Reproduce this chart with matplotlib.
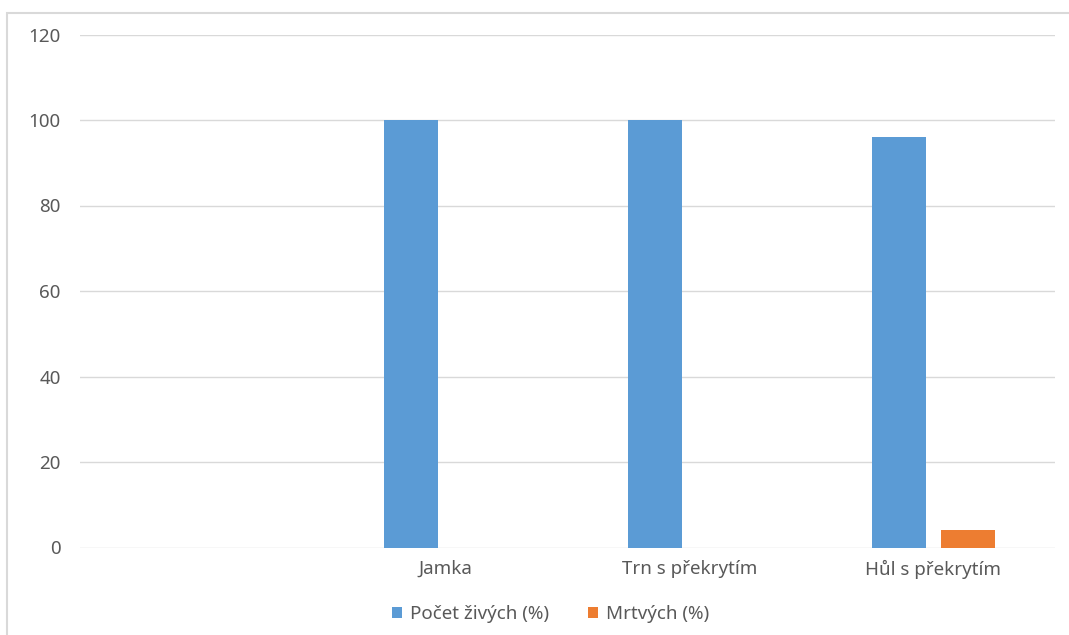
import numpy as np
import matplotlib
matplotlib.use("Agg")
import matplotlib.pyplot as plt
from matplotlib.patches import Rectangle

plt.rcParams['font.family'] = ['Noto Sans', 'DejaVu Sans']

categories = ["", "Jamka", "Trn s překrytím", "Hůl s překrytím"]
alive_pct = [np.nan, 100, 100, 96]
dead_pct = [np.nan, 0, 0, 4]
series_names = ["Počet živých (%)", "Mrtvých (%)"]
y_ticks = [0, 20, 40, 60, 80, 100, 120]

blue = "#5B9BD5"
orange = "#ED7D31"
text_col = "#595959"
grid_col = "#D9D9D9"
fs = 13.5

W, H = 1069, 635
fig = plt.figure(figsize=(W / 100, H / 100), dpi=100)
ax = fig.add_axes([80 / W, 1 - 547.5 / H, (1055 - 80) / W, (547.5 - 34.5) / H])

x = np.arange(len(categories))
width = 0.222
offset = 0.1415
ax.bar(x - offset, alive_pct, width, color=blue, label=series_names[0], zorder=3)
ax.bar(x + offset, dead_pct, width, color=orange, label=series_names[1], zorder=3)

ax.set_xlim(-0.5, len(categories) - 0.5)
ax.set_ylim(0, 120)
ax.set_yticks(y_ticks)
ax.set_xticks(x)
ax.set_xticklabels(categories)
ax.grid(axis='y', color=grid_col, linewidth=1.0, zorder=0)
ax.set_axisbelow(True)
for s in ax.spines.values():
    s.set_visible(False)
ax.tick_params(axis='both', length=0, labelsize=fs, labelcolor=text_col)
ax.tick_params(axis='y', pad=14)
ax.tick_params(axis='x', pad=9)

leg = fig.legend(loc='center', bbox_to_anchor=(550.5 / W, 1 - 614 / H), ncol=2,
                 frameon=False, fontsize=fs, handlelength=0.53, handleheight=0.53,
                 handletextpad=0.4, columnspacing=2.1)
for t in leg.get_texts():
    t.set_color(text_col)

# outer chart frame
fig.patches.append(Rectangle((7 / W, -0.05), 1.1, 1 - 13 / H + 0.05,
                             transform=fig.transFigure, fill=False,
                             edgecolor=grid_col, linewidth=1.5))

fig.savefig("out.png", dpi=100, facecolor="white")
